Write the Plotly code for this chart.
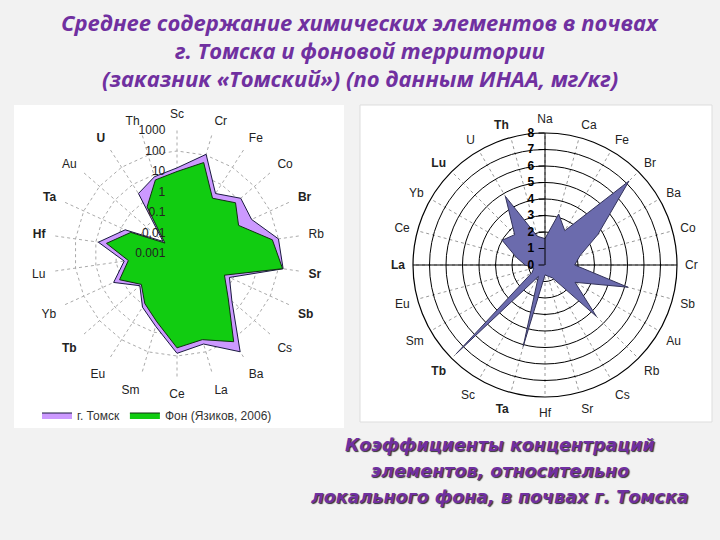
import plotly.graph_objects as go

W, H = 720, 540

# ---------- data ----------
left_elements = ["Sc", "Cr", "Fe", "Co", "Br", "Rb", "Sr", "Sb", "Cs", "Ba", "La",
                 "Ce", "Sm", "Eu", "Tb", "Yb", "Lu", "Hf", "Ta", "Au", "U", "Th"]
tomsk_values = [15, 110, 3.0, 13, 10, 100, 170, 0.65, 3.5, 500, 40,
                74, 5, 1.3, 0.25, 2.5, 0.4, 7.5, 0.6, 0.008, 3, 8]
fon_values = [10, 42, 1.6, 6, 2, 50, 160, 0.35, 2, 130, 24,
              40, 3, 0.8, 0.2, 1.2, 0.25, 3, 0.3, 0.006, 0.5, 5.5]
left_bold = ["U", "Ta", "Hf", "Br", "Sr", "Sb", "Tb"]
left_tickvals = [0.001, 0.01, 0.1, 1, 10, 100, 1000]
left_ticktext = ["0.001", "0.01", "0.1", "1", "10", "100", "1000"]

right_elements = ["Na", "Ca", "Fe", "Br", "Ba", "Co", "Cr", "Sb", "Au", "Rb", "Cs", "Sr",
                  "Hf", "Ta", "Sc", "Tb", "Sm", "Eu", "La", "Ce", "Yb", "Lu", "U", "Th"]
kk_values = [1.6, 3.2, 2.4, 7.2, 3.7, 2.2, 1.8, 5.2, 2.1, 4.4, 0.9, 0.7,
             0.6, 5.1, 0.8, 7.6, 0.9, 0.7, 1.2, 1.8, 3.0, 2.6, 4.8, 1.8]
right_bold = ["Th", "Lu", "La", "Tb", "Ta"]
right_max = 8

title_lines = ["Среднее содержание химических элементов в почвах",
               "г. Томска и фоновой территории",
               "(заказник «Томский») (по данным ИНАА, мг/кг)"]
caption_lines = ["Коэффициенты концентраций",
                 "элементов, относительно",
                 "локального фона, в почвах г. Томска"]

PURPLE = "#7030A0"
CLEAR = "rgba(0,0,0,0)"


def px_dom(cx, cy, r):
    return dict(x=[(cx - r) / W, (cx + r) / W], y=[1 - (cy + r) / H, 1 - (cy - r) / H])


def close(lst):
    return list(lst) + [lst[0]]


fig = go.Figure()

# left chart traces
fig.add_trace(go.Scatterpolar(
    r=close(tomsk_values), theta=close(left_elements), subplot="polar",
    mode="lines", fill="toself", fillcolor="#CC99FF",
    line=dict(color="#1a1a40", width=1), name="г. Томск"))
fig.add_trace(go.Scatterpolar(
    r=close(fon_values), theta=close(left_elements), subplot="polar",
    mode="lines", fill="toself", fillcolor="#11CC11",
    line=dict(color="#103010", width=1), name="Фон (Язиков, 2006)"))

# right chart
fig.add_trace(go.Scatterpolar(
    r=[right_max, right_max], theta=["La", "Cr"], subplot="polar2",
    mode="lines", line=dict(color="black", width=1.2), showlegend=False,
    hoverinfo="skip"))
fig.add_trace(go.Scatterpolar(
    r=close(kk_values), theta=close(right_elements), subplot="polar2",
    mode="lines", fill="toself", fillcolor="#6B6BAD",
    line=dict(color="#33335a", width=1), showlegend=False))

left_ticktexts = [f"<b>{e}</b>" if e in left_bold else e for e in left_elements]
right_ticktexts = [f"<b>{e}</b>" if e in right_bold else e for e in right_elements]

fig.update_layout(
    width=W, height=H,
    margin=dict(l=0, r=0, t=0, b=0),
    paper_bgcolor="#F2F2F2",
    font=dict(family="Liberation Sans, Arial", size=12, color="#222"),
    polar=dict(
        domain=px_dom(177, 253.5, 123),
        bgcolor="white",
        gridshape="linear",
        radialaxis=dict(type="log", range=[-3, 3], tickvals=left_tickvals,
                        ticktext=left_ticktext, angle=90, tickangle=90,
                        side="counterclockwise", showline=False,
                        ticks="outside", ticklen=7, tickcolor=CLEAR,
                        gridcolor="#aaaaaa", griddash="dot", gridwidth=1,
                        tickfont=dict(size=12, color="#222")),
        angularaxis=dict(type="category", categoryarray=left_elements,
                         tickvals=left_elements, ticktext=left_ticktexts,
                         direction="clockwise", rotation=90,
                         showline=False, ticks="outside", ticklen=7,
                         tickcolor=CLEAR, gridcolor="#aaaaaa",
                         griddash="dot", tickfont=dict(size=12, color="#222")),
    ),
    polar2=dict(
        domain=px_dom(545, 265, 132),
        bgcolor="white",
        radialaxis=dict(range=[0, right_max], dtick=1, angle=90, tickangle=90,
                        side="counterclockwise", showline=True,
                        linecolor="black", linewidth=1, ticks="outside",
                        ticklen=6, tickcolor="black",
                        gridcolor="black", gridwidth=1.2,
                        tickfont=dict(size=12, color="black", weight="bold")),
        angularaxis=dict(type="category", categoryarray=right_elements,
                         tickvals=right_elements, ticktext=right_ticktexts,
                         direction="clockwise", rotation=90,
                         showline=True, linecolor="black", linewidth=1.2,
                         ticks="outside", ticklen=5, tickcolor=CLEAR,
                         gridcolor="#999999", griddash="dot",
                         tickfont=dict(size=12, color="#222")),
    ),
    legend=dict(orientation="h", x=37 / W, y=1 - 415 / H, xanchor="left",
                yanchor="middle", bgcolor=CLEAR,
                font=dict(size=12, color="#333"), itemwidth=30),
    shapes=[
        dict(type="rect", xref="paper", yref="paper", x0=14 / W, x1=344 / W,
             y0=1 - 428 / H, y1=1 - 105 / H, fillcolor="white",
             line=dict(width=0), layer="below"),
        dict(type="rect", xref="paper", yref="paper", x0=360 / W, x1=712 / W,
             y0=1 - 422 / H, y1=1 - 105 / H, fillcolor="white",
             line=dict(width=1, color="#dddddd"), layer="below"),
    ],
)

annotations = []
for i, t in enumerate(title_lines):
    annotations.append(dict(
        text=f"<b><i>{t}</i></b>", x=0.5, y=1 - (22 + 28 * i) / H,
        xref="paper", yref="paper", showarrow=False, xanchor="center",
        yanchor="middle",
        font=dict(family="Open Sans", size=22, color=PURPLE)))
for i, t in enumerate(caption_lines):
    annotations.append(dict(
        text=f"<b><i>{t}</i></b>", x=500 / W, y=1 - (445 + 26 * i) / H,
        xref="paper", yref="paper", showarrow=False, xanchor="center",
        yanchor="middle",
        font=dict(family="DejaVu Sans", size=17.5, color=PURPLE,
                  shadow="1px 1px 1px #333")))
fig.update_layout(annotations=annotations)

fig.write_html("out.html",
               config={"displayModeBar": False},
               post_script="document.body.style.margin='0';"
                           "document.body.style.background='#F2F2F2';")
